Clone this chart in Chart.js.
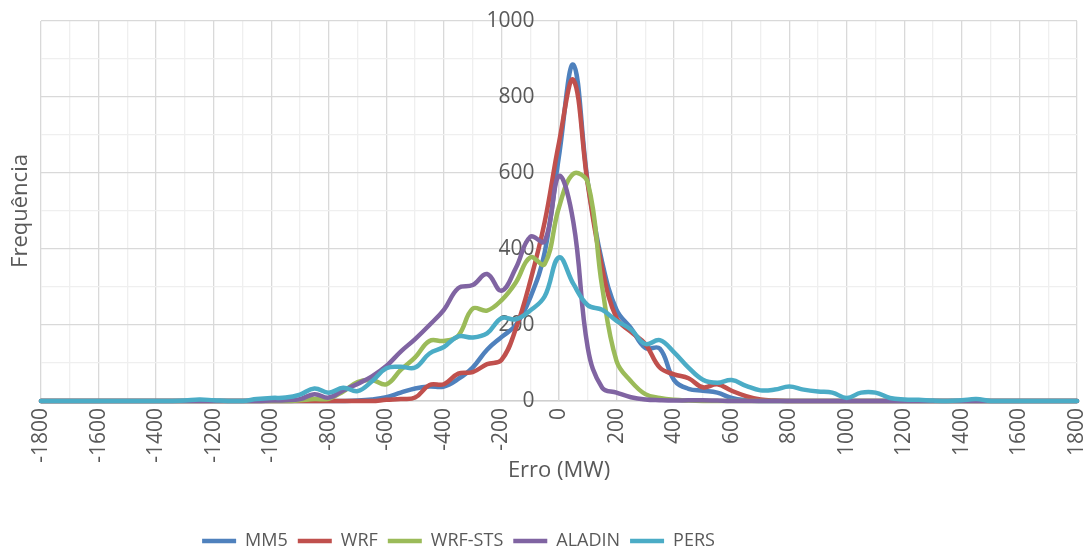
<!DOCTYPE html>
<html>
<head>
<meta charset="utf-8">
<script src="https://cdn.jsdelivr.net/npm/chart.js@4/dist/chart.umd.min.js"></script>
<style>
  html, body { margin: 0; padding: 0; background: #fff; }
  #wrap { width: 1088px; height: 552px; }
</style>
</head>
<body>
<div id="wrap"><canvas id="grafico"></canvas></div>
<script>
// classes de erro (MW)
const erro = [
  -1800, -1750, -1700, -1650, -1600, -1550, -1500, -1450, -1400, -1350,
  -1300, -1250, -1200, -1150, -1100, -1050, -1000, -950, -900, -850,
  -800, -750, -700, -650, -600, -550, -500, -450, -400, -350,
  -300, -250, -200, -150, -100, -50, 0, 50, 100, 150,
  200, 250, 300, 350, 400, 450, 500, 550, 600, 650,
  700, 750, 800, 850, 900, 950, 1000, 1050, 1100, 1150,
  1200, 1250, 1300, 1350, 1400, 1450, 1500, 1550, 1600, 1650,
  1700, 1750, 1800
];

// frequencia por modelo
const mm5 = [
  0, 0, 0, 0, 0, 0, 0, 0, 0, 0,
  0, 0, 0, 0, 0, 0, 0, 0, 0, 0,
  0, 0, 1, 4, 10, 22, 33, 38, 38, 58,
  88, 135, 168, 200, 272, 390, 645, 885, 575, 365,
  240, 192, 140, 138, 55, 32, 27, 22, 8, 2,
  0, 0, 0, 0, 0, 0, 0, 0, 0, 0,
  0, 0, 0, 0, 0, 0, 0, 0, 0, 0,
  0, 0, 0
];
const wrf = [
  0, 0, 0, 0, 0, 0, 0, 0, 0, 0,
  0, 0, 0, 0, 0, 0, 0, 0, 0, 0,
  0, 0, 0, 0, 3, 5, 9, 42, 44, 72,
  76, 97, 108, 190, 315, 470, 680, 845, 570, 350,
  218, 182, 150, 88, 70, 60, 36, 44, 27, 13,
  4, 1, 0, 0, 0, 0, 0, 0, 0, 0,
  0, 0, 0, 0, 0, 0, 0, 0, 0, 0,
  0, 0, 0
];
const wrfSts = [
  0, 0, 0, 0, 0, 0, 0, 0, 0, 0,
  0, 0, 0, 0, 0, 0, 0, 0, 2, 5,
  6, 25, 50, 55, 44, 82, 115, 158, 158, 172,
  243, 238, 265, 312, 378, 360, 510, 598, 575, 300,
  105, 52, 18, 8, 3, 1, 0, 0, 0, 0,
  0, 0, 0, 0, 0, 0, 0, 0, 0, 0,
  0, 0, 0, 0, 0, 0, 0, 0, 0, 0,
  0, 0, 0
];
const aladin = [
  0, 0, 0, 0, 0, 0, 0, 0, 0, 0,
  0, 0, 0, 0, 0, 0, 1, 2, 5, 18,
  9, 28, 45, 65, 92, 130, 163, 200, 240, 297,
  305, 334, 290, 350, 432, 420, 592, 470, 140, 35,
  22, 10, 4, 2, 1, 2, 2, 1, 0, 0,
  0, 0, 0, 0, 0, 0, 0, 0, 0, 0,
  0, 0, 0, 0, 0, 0, 0, 0, 0, 0,
  0, 0, 0
];
const pers = [
  0, 0, 0, 0, 0, 0, 0, 0, 0, 0,
  1, 4, 2, 0, 0, 5, 8, 9, 17, 33,
  22, 35, 26, 52, 86, 90, 88, 125, 142, 170,
  167, 178, 218, 215, 238, 275, 378, 308, 252, 240,
  211, 188, 150, 160, 128, 88, 56, 48, 55, 40,
  28, 30, 38, 30, 25, 22, 8, 22, 22, 8,
  4, 3, 1, 0, 2, 5, 0, 0, 0, 0,
  0, 0, 0
];

const nomes = ['MM5', 'WRF', 'WRF-STS', 'ALADIN', 'PERS'];
const cores = ['#4F81BD', '#C0504D', '#9BBB59', '#8064A2', '#4BACC6'];
const valores = [mm5, wrf, wrfSts, aladin, pers];

const cinza = '#595959';
const fonte = "'Open Sans', 'Liberation Sans', sans-serif";

const datasets = nomes.map((nome, i) => ({
  label: nome,
  data: erro.map((x, j) => ({ x: x, y: valores[i][j] })),
  borderColor: cores[i],
  backgroundColor: cores[i],
  borderWidth: 4.5,
  borderCapStyle: 'round',
  borderJoinStyle: 'round',
  pointRadius: 0,
  tension: 0.4,
  clip: false,
  order: nomes.length - i // a ultima serie fica por cima
}));

// grelha principal cada 200, secundaria mais clara
const corGrelha = (passo) => (ctx) =>
  ctx.tick && ctx.tick.value % passo === 0 ? '#d9d9d9' : '#efefef';

// empurra a legenda para a posicao usada no grafico original
const moverLegenda = {
  id: 'moverLegenda',
  afterLayout(chart) {
    const lg = chart.legend;
    if (!lg) return;
    lg.left -= 160;
    lg.top += 8;
    lg.bottom += 8;
  }
};

new Chart(document.getElementById('grafico'), {
  type: 'line',
  data: { datasets: datasets },
  plugins: [moverLegenda],
  options: {
    responsive: true,
    maintainAspectRatio: false,
    animation: false,
    devicePixelRatio: 1,
    layout: { padding: { top: 21, right: 11, left: 0, bottom: 0 } },
    plugins: {
      tooltip: { enabled: false },
      legend: {
        position: 'bottom',
        labels: {
          usePointStyle: true,
          pointStyle: 'line',
          pointStyleWidth: 34,
          padding: 10,
          color: cinza,
          font: { family: fonte, size: 18 },
          sort: (a, b) => a.datasetIndex - b.datasetIndex
        }
      }
    },
    scales: {
      x: {
        type: 'linear',
        min: -1800,
        max: 1800,
        afterFit: (s) => {
          s.height = 113;
          s.paddingLeft = 0;
          s.paddingRight = 0;
        },
        grid: { color: corGrelha(200), drawTicks: false, lineWidth: 1.3 },
        border: { color: '#cfcfcf', width: 1.5 },
        ticks: {
          stepSize: 100,
          autoSkip: false,
          minRotation: 90,
          maxRotation: 90,
          padding: 7,
          color: cinza,
          font: { family: fonte, size: 21 },
          callback: (v) => (v % 200 === 0 ? v : '')
        },
        title: {
          display: true,
          text: 'Erro (MW)',
          color: cinza,
          font: { family: fonte, size: 22 },
          padding: { top: 0, bottom: 30 }
        }
      },
      y: {
        type: 'linear',
        position: { x: 0 },
        min: 0,
        max: 1000,
        afterFit: (s) => {
          s.paddingTop = 0;
          s.paddingBottom = 0;
        },
        grid: { color: corGrelha(200), lineWidth: 1.3, drawTicks: false },
        border: { color: '#d9d9d9', width: 1.3 },
        ticks: {
          stepSize: 50,
          padding: 0,
          color: cinza,
          font: { family: fonte, size: 21 },
          // eixo no zero: o espaco final afasta o numero da linha
          callback: (v) => (v % 200 === 0 ? v + '\u2003\u2009' : '')
        }
      },
      yTitulo: {
        type: 'linear',
        position: 'left',
        afterFit: (s) => { s.width = 41; },
        grid: { display: false, drawTicks: false },
        border: { display: false },
        ticks: { display: false },
        title: {
          display: true,
          text: 'Frequência',
          color: cinza,
          font: { family: fonte, size: 22 },
          padding: { top: 8, bottom: 0 }
        }
      }
    }
  }
});
</script>
</body>
</html>
